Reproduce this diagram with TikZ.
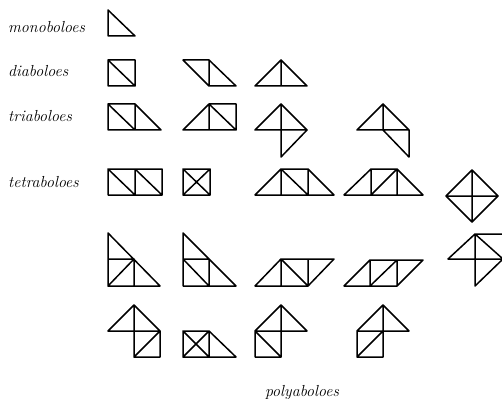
\documentclass[tikz,border=0pt]{standalone}
\usepackage{tikz}
\begin{document}
\begin{tikzpicture}[x=1pt,y=-1pt,
abolo/.style={line width=1.5pt,line join=round,line cap=round},
lab/.style={font=\fontsize{16}{18}\selectfont\itshape,anchor=west,inner sep=0pt}]
\useasboundingbox (0,0) rectangle (502,398);
% labels
\node[lab] (mono) at (8,27) {monoboloes};
\node[lab] (dia) at (8,71) {diaboloes};
\node[lab] (tria) at (8,116) {triaboloes};
\node[lab] (tetra) at (8,182) {tetraboloes};
\node[lab,anchor=base] (poly) at (302,396) {polyaboloes};
% monoboloes
\draw[abolo] (108,10)--(108,36)--(135,36)--cycle;
% diaboloes
\draw[abolo] (108,60) rectangle (135,86) (108,60)--(135,86);
\draw[abolo] (183,60)--(209,60)--(236,86)--(209,86)--cycle (209,60)--(209,86);
\draw[abolo] (255,86)--(281,60)--(307,86)--cycle (281,60)--(281,86);
% triaboloes
\draw[abolo] (108,104) rectangle (135,130) (108,104)--(135,130) (135,104)--(161,130)--(135,130);
\draw[abolo] (183,130)--(209,104)--(236,104)--(236,130)--cycle (209,104)--(209,130) (209,104)--(236,130);
\draw[abolo] (255,130)--(281,104)--(307,130)--(281,157)--(281,104) (255,130)--(307,130);
\draw[abolo] (357,130)--(383,104)--(409,130)--(409,157)--(383,130) (383,104)--(383,130) (357,130)--(409,130);
% tetraboloes
\draw[abolo] (108,169) rectangle (162,195) (135,169)--(135,195) (108,169)--(135,195) (135,169)--(162,195);
\draw[abolo] (183,169) rectangle (210,195) (183,169)--(210,195) (210,169)--(183,195);
\draw[abolo] (255,195)--(281,169)--(308,169)--(334,195)--cycle (281,169)--(281,195) (281,169)--(308,195) (308,169)--(308,195);
\draw[abolo] (344,195)--(371,169)--(397,169)--(423,195)--cycle (371,169)--(371,195) (371,195)--(397,169)--(397,195);
\draw[abolo] (446,196)--(472,170)--(498,196)--(472,222)--cycle (446,196)--(498,196) (472,170)--(472,222);
\draw[abolo] (108,233)--(160,286)--(108,286)--cycle (108,259)--(134,259)--(134,286) (108,286)--(134,259);
\draw[abolo] (183,233)--(236,286)--(183,286)--cycle (183,259)--(209,259)--(209,286) (183,259)--(209,286);
\draw[abolo] (255,286)--(281,259)--(334,259)--(308,286)--cycle (281,259)--(281,286) (281,259)--(308,286) (308,259)--(308,286);
\draw[abolo] (344,286)--(370,260)--(423,260)--(397,286)--cycle (370,260)--(370,286) (397,260)--(397,286) (370,286)--(397,260);
\draw[abolo] (448,259)--(475,234)--(503,234)--(503,259)--(475,286)--(475,234) (448,259)--(503,259) (475,234)--(503,259);
\draw[abolo] (108,331)--(134,305)--(160,331)--(160,357)--(134,357)--(134,305) (108,331)--(160,331) (134,357)--(160,331);
\draw[abolo] (183,331) rectangle (209,357) (183,331)--(209,357) (209,331)--(183,357) (209,331)--(236,357)--(209,357);
\draw[abolo] (255,357)--(255,331)--(281,305)--(307,331)--(255,331) (281,305)--(281,357)--(255,357) (255,331)--(281,357);
\draw[abolo] (357,357)--(357,331)--(383,305)--(409,331)--(357,331) (383,305)--(383,357)--(357,357) (357,357)--(383,331);
\end{tikzpicture}
\end{document}
